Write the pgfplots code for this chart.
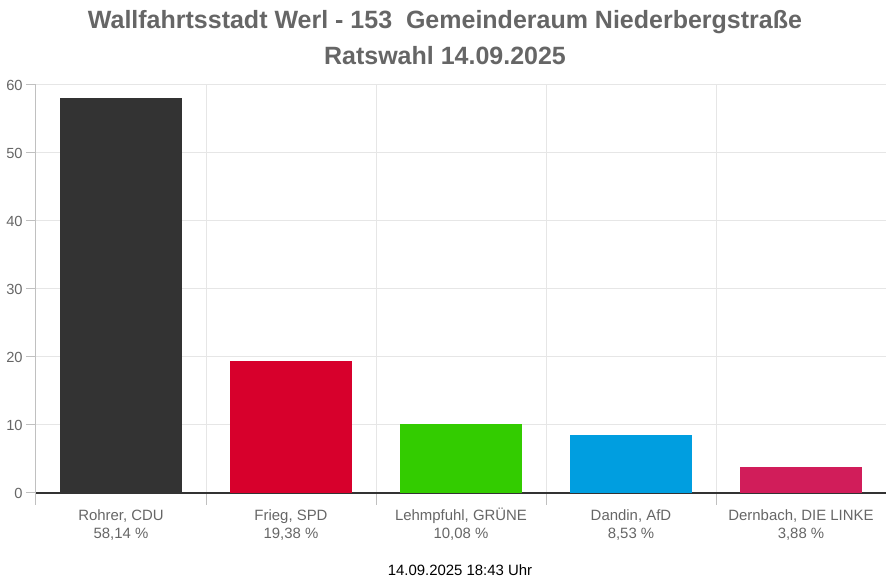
\documentclass[border=0pt]{standalone}
\usepackage{pgfplots}
\pgfplotsset{compat=1.18}
\usepackage{fontspec}
\setmainfont{Liberation Sans}
\definecolor{txt}{HTML}{666666}
\definecolor{gridc}{HTML}{E6E6E6}
\definecolor{axc}{HTML}{C0C0C0}
\definecolor{cdu}{HTML}{333333}
\definecolor{spd}{HTML}{D7002C}
\definecolor{gruene}{HTML}{33CC00}
\definecolor{afd}{HTML}{009EE0}
\definecolor{linke}{HTML}{D11D5A}
\newcommand{\U}{\vphantom{Ü}}
\begin{document}
\begin{tikzpicture}
\path[use as bounding box] (0,0) rectangle (667.5pt,438.75pt);
\begin{axis}[
  at={(27pt,69pt)}, anchor=south west,
  scale only axis, width=637.5pt, height=306pt,
  xmin=-0.5, xmax=4.5, ymin=0, ymax=60,
  ytick={0,10,...,60},
  xtick={0,1,2,3,4},
  xticklabels={{\U Rohrer, CDU\\58,14 \%},{\U Frieg, SPD\\19,38 \%},{\U Lehmpfuhl, GRÜNE\\10,08 \%},{\U Dandin, AfD\\8,53 \%},{\U Dernbach, DIE LINKE\\3,88 \%}},
  minor xtick={-0.5,0.5,1.5,2.5,3.5},
  xminorgrids, ymajorgrids,
  minor grid style={gridc, line width=0.75pt},
  major grid style={gridc, line width=0.75pt},
  axis x line*=bottom, axis y line*=left,
  x axis line style={cdu, line width=1.1pt, -},
  y axis line style={axc, line width=0.75pt, -},
  tick align=outside,
  major x tick style={draw=none},
  minor x tick style={axc, line width=0.75pt},
  minor tick length=9pt,
  major tick length=7.5pt,
  y tick style={axc, line width=0.75pt},
  xticklabel style={align=center, text=txt, font=\fontsize{11.2pt}{13.5pt}\selectfont, yshift=0pt},
  yticklabel style={text=txt, font=\fontsize{11pt}{12pt}\selectfont, xshift=1pt},
  /pgf/number format/assume math mode=true,
  ybar, bar width=91.5pt, bar shift=0pt,
]
\addplot[draw=none, fill=cdu] coordinates {(0,58.14)};
\addplot[draw=none, fill=spd] coordinates {(1,19.38)};
\addplot[draw=none, fill=gruene] coordinates {(2,10.08)};
\addplot[draw=none, fill=afd] coordinates {(3,8.53)};
\addplot[draw=none, fill=linke] coordinates {(4,3.88)};
\end{axis}
\node[text=txt, font=\bfseries\fontsize{18.75pt}{22pt}\selectfont] at (333.75pt,422pt) {Wallfahrtsstadt Werl - 153\ \ Gemeinderaum Niederbergstraße};
\node[text=txt, font=\bfseries\fontsize{18.75pt}{22pt}\selectfont] at (333.75pt,397pt) {Ratswahl 14.09.2025};
\node[text=black, font=\fontsize{11.2pt}{13pt}\selectfont] at (345pt,11pt) {14.09.2025 18:43 Uhr};
\end{tikzpicture}
\end{document}
